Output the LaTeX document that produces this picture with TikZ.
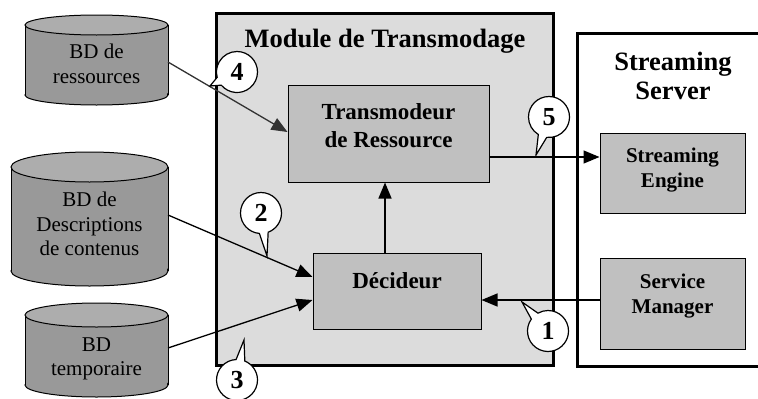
\documentclass[tikz,border=0pt]{standalone}
\usepackage{fontspec}
\setmainfont{Liberation Serif}
\usetikzlibrary{arrows.meta,shapes.callouts}
\definecolor{modgray}{HTML}{DCDCDC}
\definecolor{boxgray}{HTML}{C0C0C0}
\definecolor{cylbody}{HTML}{999999}
\definecolor{cyltop}{HTML}{ADADAD}
\definecolor{darkline}{HTML}{333333}
\newcommand\dbcyl[5]{%
  \fill[cylbody] (#1-#2,#3) rectangle (#1+#2,#4);
  \filldraw[fill=cylbody, line width=1pt] (#1,#4) ellipse[x radius=#2, y radius=#5];
  \fill[cylbody] (#1-#2+0.6,#3) rectangle (#1+#2-0.6,#4);
  \draw[line width=1pt] (#1-#2,#3) -- (#1-#2,#4) (#1+#2,#3) -- (#1+#2,#4);
  \filldraw[fill=cyltop, line width=1pt] (#1,#3) ellipse[x radius=#2, y radius=#5];
}
\begin{document}
\begin{tikzpicture}[x=1pt,y=-1pt,
  frame/.style={line width=3pt},
  box/.style={draw, line width=1pt, fill=boxgray, inner sep=0pt},
  boxtxt/.style={font=\bfseries\fontsize{23}{28}\selectfont, align=center},
  titletxt/.style={font=\bfseries\fontsize{26.5}{29}\selectfont, align=center},
  smalltxt/.style={font=\bfseries\fontsize{21}{25}\selectfont, align=center},
  cyltxt/.style={font=\fontsize{21}{24.5}\selectfont, align=center},
  conn/.style={line width=1.3pt, -{Triangle[length=16pt,width=13pt]}},
  num/.style={ellipse callout, draw, line width=1.2pt, fill=white,
    minimum width=41pt, minimum height=41pt, inner sep=0pt,
    callout pointer arc=25, font=\bfseries\fontsize{26}{26}\selectfont}
]
\useasboundingbox (0,0) rectangle (758,399);
\clip (0,0) rectangle (758,399);

% module frame
\draw[frame, fill=modgray] (216,13) rectangle (553,365);
\node[titletxt] (modtitle) at (385,41) {Module de Transmodage};

% streaming server frame
\draw[frame, fill=white] (770,33) -- (577,33) -- (577,366) -- (770,366);
\node[titletxt] (srvtitle) at (673,76) {Streaming\\Server};

% boxes
\node[box, minimum width=201pt, minimum height=97pt] (trans) at (388.5,133.5) {};
\node[boxtxt] (transtxt) at (388.5,126) {Transmodeur\\de Ressource};
\node[box, minimum width=168pt, minimum height=76pt] (dec) at (397,291) {};
\node[boxtxt] (dectxt) at (397,281) {Décideur};
\node[box, minimum width=145pt, minimum height=80pt] (eng) at (672.5,173) {};
\node[smalltxt] (engtxt) at (672.5,170) {Streaming\\Engine};
\node[box, minimum width=145pt, minimum height=91pt] (mgr) at (672.5,303.5) {};
\node[smalltxt] (mgrtxt) at (672.5,296) {Service\\Manager};

% databases
\dbcyl{96.5}{71.5}{25}{95}{10}
\node[cyltxt] (res) at (96.5,64) {BD de\\ressources};
\coordinate (res-e) at (168,62);
\dbcyl{89.5}{78.5}{167}{271}{15}
\node[cyltxt] (desc) at (89.5,224) {BD de\\Descriptions\\de contenus};
\coordinate (desc-e) at (168,215);
\dbcyl{96.5}{71.5}{315}{385}{12}
\node[cyltxt] (temp) at (96.5,359) {BD\\temporaire};
\coordinate (temp-e) at (168,348);

% connectors
\draw[conn, draw=darkline, fill=darkline] (res-e) -- ([yshift=1.5pt]trans.west);
\draw[conn] (desc-e) -- ([yshift=14pt]dec.west);
\draw[conn] (temp-e) -- ([yshift=-9pt]dec.west);
\draw[conn] ([xshift=-12pt]dec.north) -- ([xshift=-12pt]dec.north |- trans.south);
\draw[conn] ([yshift=-23.5pt]trans.east) -- ([yshift=-23.5pt]trans.east -| eng.west);
\draw[conn] ([yshift=3.5pt]mgr.west) -- ([yshift=3.5pt]mgr.west -| dec.east);

% callouts
\node[num, callout absolute pointer={(210,86)}] (c4) at (237,72) {4};
\node[num, callout absolute pointer={(536,155)}] (c5) at (549,117) {5};
\node[num, callout absolute pointer={(267,256)}] (c2) at (261,213) {2};
\node[num, callout absolute pointer={(522,302)}] (c1) at (548,331) {1};
\node[num, callout absolute pointer={(244,340)}] (c3) at (237,380) {3};
\end{tikzpicture}
\end{document}
